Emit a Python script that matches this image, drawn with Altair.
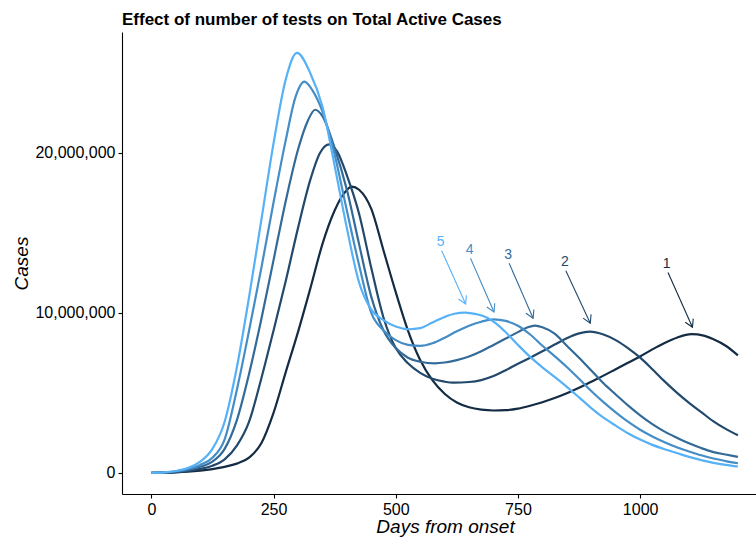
import altair as alt
import pandas as pd

FONT = "Liberation Sans"

# ---------------- data (cases in millions) ----------------
series_names = ["1", "2", "3", "4", "5"]
series_colors = ["#132B43", "#22496C", "#336A98", "#448DC6", "#56B1F7"]

days_1 = [0, 25, 50, 75, 100, 125, 150, 175, 200, 225, 250, 275, 300, 325, 350, 375, 395, 410, 425, 450,
          475, 500, 525, 550, 575, 600, 625, 650, 675, 700, 725, 750, 775, 800, 825, 850, 875, 900, 925,
          950, 975, 1000, 1025, 1050, 1075, 1105, 1130, 1150, 1175, 1200]
cases_1 = [0, 0.01, 0.03, 0.07, 0.14, 0.24, 0.38, 0.58, 0.95, 1.85, 3.75, 6.3, 8.8, 11.5, 14.3, 16.4, 17.5, 17.9, 17.7, 16.5,
           13.9, 11.3, 8.9, 7.06, 5.8, 4.95, 4.4, 4.1, 3.95, 3.9, 3.92, 4.02, 4.2, 4.42, 4.68, 4.98, 5.32, 5.7, 6.08,
           6.48, 6.88, 7.28, 7.72, 8.12, 8.45, 8.67, 8.58, 8.35, 7.95, 7.35]

days_2 = [0, 25, 50, 75, 100, 125, 150, 175, 200, 225, 250, 275, 300, 325, 345, 364, 380, 400, 425, 450,
          475, 500, 525, 550, 575, 600, 618, 650, 675, 700, 725, 750, 775, 800, 825, 850, 875, 897, 925,
          950, 975, 1000, 1025, 1050, 1075, 1100, 1125, 1150, 1175, 1200]
cases_2 = [0, 0.015, 0.05, 0.13, 0.25, 0.45, 0.85, 1.7, 3.2, 5.9, 8.9, 12.0, 15.3, 18.3, 20.0, 20.54, 20.1, 18.6, 16.2, 12.8,
           9.7, 7.8, 6.85, 6.25, 5.88, 5.7, 5.64, 5.68, 5.8, 6.05, 6.42, 6.82, 7.2, 7.6, 8.02, 8.42, 8.72, 8.83, 8.65,
           8.3, 7.8, 7.2, 6.48, 5.72, 5.02, 4.38, 3.8, 3.22, 2.75, 2.35]

days_3 = [0, 25, 50, 75, 100, 125, 150, 175, 200, 225, 250, 275, 300, 320, 335, 350, 375, 400, 425, 450,
          475, 500, 525, 550, 580, 600, 625, 650, 675, 700, 725, 750, 770, 785, 800, 825, 850, 875, 900,
          925, 950, 975, 1000, 1025, 1050, 1075, 1100, 1125, 1150, 1175, 1200]
cases_3 = [0, 0.02, 0.07, 0.18, 0.38, 0.7, 1.5, 3.3, 6.2, 9.6, 13.3, 17.0, 20.2, 22.0, 22.7, 22.3, 20.3, 17.7, 14.3, 11.0,
           8.9, 7.8, 7.2, 6.95, 6.85, 6.9, 7.05, 7.27, 7.6, 8.0, 8.4, 8.8, 9.1, 9.2, 9.1, 8.7, 7.95, 7.2, 6.4,
           5.6, 4.9, 4.22, 3.6, 3.05, 2.58, 2.2, 1.85, 1.55, 1.3, 1.15, 1.0]

days_4 = [0, 25, 50, 75, 100, 125, 150, 175, 200, 225, 250, 275, 295, 313, 330, 350, 375, 400, 425, 450,
          475, 500, 525, 550, 575, 600, 625, 650, 675, 700, 725, 750, 775, 800, 825, 850, 875, 900, 925,
          950, 975, 1000, 1025, 1050, 1075, 1100, 1125, 1150, 1175, 1200]
cases_4 = [0, 0.02, 0.1, 0.25, 0.5, 0.95, 2.1, 5.2, 8.9, 12.8, 16.9, 20.8, 23.5, 24.46, 23.9, 22.6, 19.9, 16.4, 13.0, 10.0,
           8.9, 8.3, 8.0, 7.94, 8.1, 8.45, 8.85, 9.2, 9.45, 9.6, 9.5, 9.2, 8.65, 7.95, 7.3, 6.62, 5.88, 5.12, 4.42,
           3.78, 3.2, 2.7, 2.28, 1.92, 1.6, 1.34, 1.1, 0.9, 0.74, 0.6]

days_5 = [0, 25, 50, 75, 100, 125, 150, 175, 200, 225, 250, 275, 298, 325, 350, 375, 400, 425, 450, 475,
          500, 527, 550, 575, 600, 620, 642, 665, 686, 705, 727, 750, 775, 800, 825, 850, 875, 900, 925,
          950, 975, 1000, 1025, 1050, 1075, 1100, 1125, 1150, 1175, 1200]
cases_5 = [0, 0.03, 0.12, 0.3, 0.7, 1.5, 3.2, 6.6, 11.0, 15.8, 20.6, 24.6, 26.25, 25.0, 22.9, 19.2, 15.3, 11.9, 10.2, 9.55,
           9.15, 8.98, 9.05, 9.4, 9.75, 9.95, 10.02, 9.92, 9.72, 9.35, 8.73, 8.0, 7.25, 6.6, 6.0, 5.38, 4.72, 4.05, 3.45,
           2.95, 2.48, 2.08, 1.75, 1.48, 1.24, 1.0, 0.8, 0.63, 0.5, 0.4]

# annotation labels and arrows (day, cases in millions)
label_day = [1054, 846, 730, 651, 592]
label_cases = [13.06, 13.2, 13.63, 13.94, 14.46]
arrow_start_day = [1057, 848, 732, 653, 594]
arrow_start_cases = [12.52, 12.64, 13.1, 13.42, 13.89]
arrow_end_day = [1107, 898, 781, 701, 643]
arrow_end_cases = [9.1, 9.36, 9.67, 10.06, 10.56]

# ---------------- tables ----------------
all_days = [days_1, days_2, days_3, days_4, days_5]
all_cases = [cases_1, cases_2, cases_3, cases_4, cases_5]
rows = []
for name, d, v in zip(series_names, all_days, all_cases):
    for di, vi in zip(d, v):
        rows.append({"series": name, "day": di, "cases": vi * 1e6})
df = pd.DataFrame(rows)

ann = pd.DataFrame({
    "series": series_names,
    "lx": label_day,
    "ly": [v * 1e6 for v in label_cases],
    "x0": arrow_start_day,
    "y0": [v * 1e6 for v in arrow_start_cases],
    "x1": arrow_end_day,
    "y1": [v * 1e6 for v in arrow_end_cases],
})

xscale = alt.Scale(domain=[-60, 1237], nice=False, zero=False)
yscale = alt.Scale(domain=[-1.32e6, 27.56e6], nice=False, zero=False)
cscale = alt.Scale(domain=series_names, range=series_colors)
color = alt.Color("series:N", scale=cscale, legend=None)

XT = "Days from onset"
YT = "Cases"

lines = alt.Chart(df).mark_line(interpolate="monotone", strokeWidth=2.2).encode(
    x=alt.X("day:Q", scale=xscale, title=XT,
            axis=alt.Axis(values=[0, 250, 500, 750, 1000], format="d", titleX=323, titleY=38,
                          titleBaseline="alphabetic", titleAlign="center")),
    y=alt.Y("cases:Q", scale=yscale, title=YT,
            axis=alt.Axis(values=[0, 10000000, 20000000], format=",d", titleX=-95, titleY=231,
                          titleBaseline="alphabetic", titleAlign="center")),
    color=color,
)

shafts = alt.Chart(ann).mark_rule(strokeWidth=1.1).encode(
    x=alt.X("x0:Q", scale=xscale, title=XT),
    y=alt.Y("y0:Q", scale=yscale, title=YT),
    x2="x1:Q",
    y2="y1:Q",
    color=color,
)

heads = alt.Chart(ann).mark_point(
    shape="M-0.58,-1L0,0L0.58,-1", filled=False, size=230, strokeWidth=1.1, angle=335, opacity=1
).encode(
    x=alt.X("x1:Q", scale=xscale, title=XT),
    y=alt.Y("y1:Q", scale=yscale, title=YT),
    color=color,
)

labels = alt.Chart(ann).mark_text(font=FONT, fontSize=14, align="center", baseline="middle").encode(
    x=alt.X("lx:Q", scale=xscale, title=XT),
    y=alt.Y("ly:Q", scale=yscale, title=YT),
    text="series:N",
    color=color,
)

chart = alt.layer(lines, shafts, heads, labels).properties(
    width=634,
    height=462,
    padding={"left": 122, "top": 32, "right": 0, "bottom": 43},
    autosize=alt.AutoSizeParams(type="none"),
    title=alt.TitleParams(
        text="Effect of number of tests on Total Active Cases",
        anchor="start", frame="group", fontSize=17, fontWeight="bold",
        font=FONT, color="black", offset=9, baseline="alphabetic", dy=19,
    ),
    background="white",
).configure_view(stroke=None).configure_axis(
    domainColor="black", domainWidth=1.1, tickColor="black", tickSize=4, tickWidth=1.1,
    labelColor="black", labelFont=FONT, labelFontSize=16, labelPadding=3, grid=False,
    titleFont=FONT, titleFontSize=19, titleFontStyle="italic", titleFontWeight="normal",
    titleColor="black",
)

chart.save("out.html", embed_options={"renderer": "svg", "actions": False})
